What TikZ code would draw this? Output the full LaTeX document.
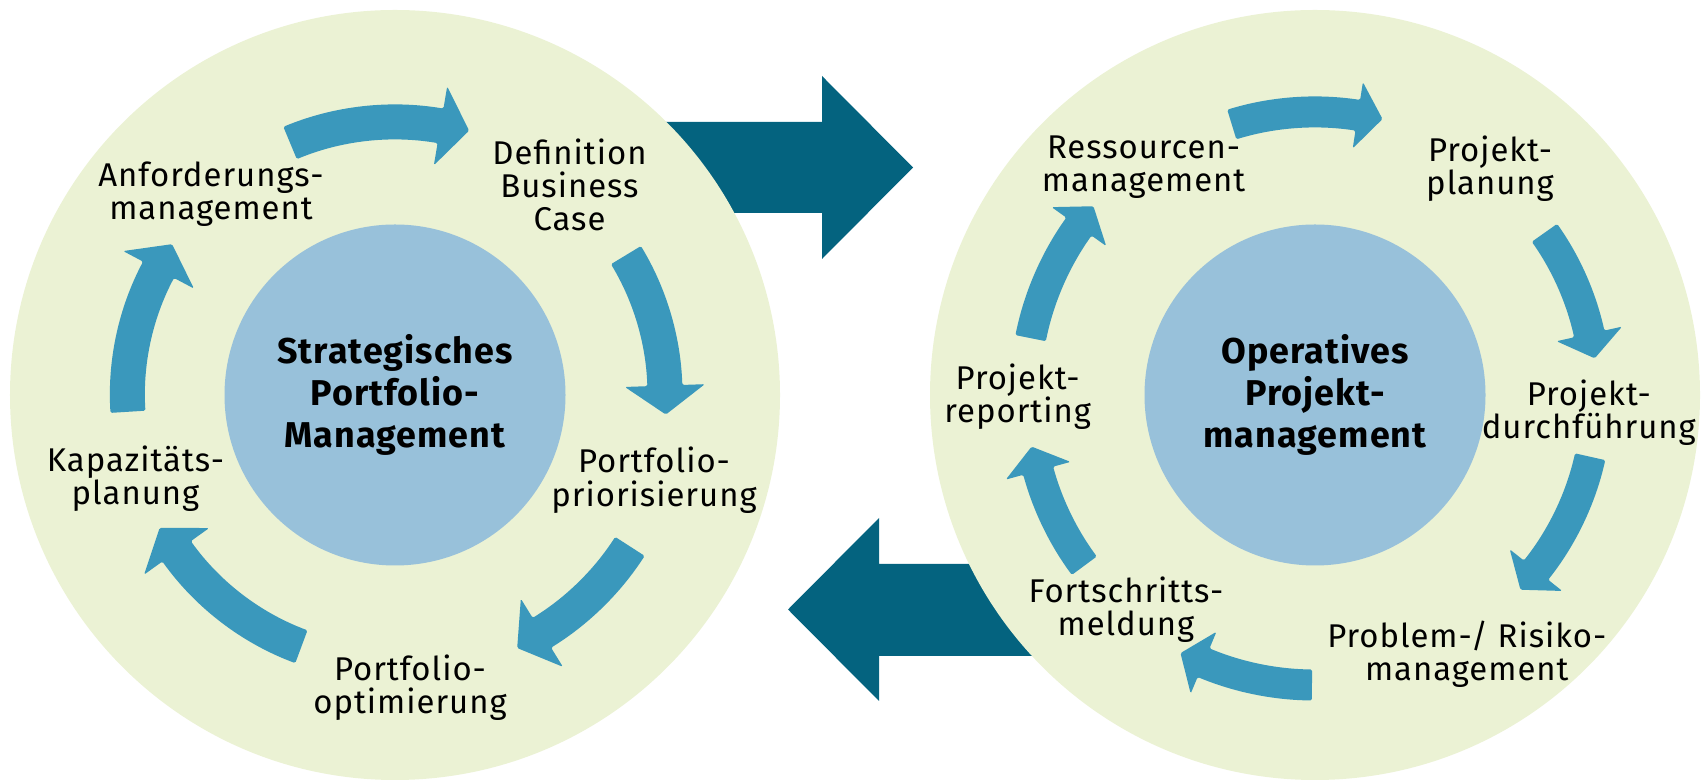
\documentclass[tikz,border=0pt]{standalone}
\usepackage{fontspec}
\setmainfont[LetterSpace=3]{Fira Sans}
\usetikzlibrary{calc,positioning}
\definecolor{ringColor}{HTML}{EBF2D4}
\definecolor{hubColor}{HTML}{98C1DA}
\definecolor{loopColor}{HTML}{3A98BC}
\definecolor{flowColor}{HTML}{04637F}
% curved arrow on a ring: centre, tail angle, head angle, radius
\newcommand{\loopArrow}[4]{%
  \fill[loop] ($(#1)+(#2:#4+\shaftW)$) arc[start angle=#2,end angle=#3,radius=#4+\shaftW]
    -- ($(#1)+(#3:#4+\headW)$) -- ($(#1)+(#3:#4)+(#3-90:\headL)$)
    -- ($(#1)+(#3:#4-\headW)$) -- ($(#1)+(#3:#4-\shaftW)$)
    arc[start angle=#3,end angle=#2,radius=#4-\shaftW] -- cycle;}

\begin{document}
\begin{tikzpicture}[%
    x=1bp,y=1bp,align=center]
    \tikzstyle{ring}=[circle,fill=ringColor,inner sep=0pt,minimum size=770bp]
    \tikzstyle{hub}=[circle,fill=hubColor,inner sep=0pt,minimum size=341bp,
                     font=\bfseries\fontsize{36}{42}\selectfont]
    \tikzstyle{phase}=[inner sep=0pt,font=\fontsize{33}{33.5}\selectfont]
    \tikzstyle{loop}=[fill=loopColor,rounded corners=1.5bp]
    \tikzstyle{flow}=[fill=flowColor]
    \useasboundingbox (0,0) rectangle (1705,780);
    % Big arrows between the cycles
    \fill[flow] (600,567) -- (822,567) -- (822,521) -- (913,612.5) -- (822,704)
                -- (822,658) -- (600,658) -- cycle;
    \fill[flow] (1050,124) -- (879,124) -- (879,79) -- (788,170.5) -- (879,262)
                -- (879,216) -- (1050,216) -- cycle;
    % Rings and hubs
    \node (leftRing) [ring] at (395,385) {};
    \node (rightRing) [ring] at (1315,385) {};
    \node (leftHub) [hub] at (leftRing.center)
          {Strategisches\\Portfolio-\\Management};
    \node (rightHub) [hub] at (rightRing.center)
          {Operatives\\Projekt-\\management};
    % Left cycle
    \node (anf) [phase] at (211,586)     {Anforderungs-\\management};
    \node (def) [phase] at (569.5,595)   {Definition\\Business\\Case};
    \node (prio) [phase] at (654,300)    {Portfolio-\\priorisierung};
    \node (opt) [phase] at (410,92.3)    {Portfolio-\\optimierung};
    \node (kap) [phase] at (135.5,301.2) {Kapazitäts-\\planung};
    \def\shaftW{17.5}\def\headW{40}\def\headL{29}
    \loopArrow{leftRing}{112.6}{80.4}{273}
    \loopArrow{leftRing}{31.2}{2}{270}
    \loopArrow{leftRing}{-32.8}{-58.3}{279.5}
    \loopArrow{leftRing}{-110.4}{-144.4}{268.6}
    \loopArrow{leftRing}{183.6}{152.1}{267.6}
    % Right cycle
    \node (res) [phase] at (1143.6,613)   {Ressourcen-\\management};
    \node (plan) [phase] at (1490,611.4)  {Projekt-\\planung};
    \node (durch) [phase] at (1588.8,367.6) {Projekt-\\durchführung};
    \node (risk) [phase] at (1466.8,125.6) {Problem-/ Risiko-\\management};
    \node (fort) [phase] at (1126,170.3)  {Fortschritts-\\meldung};
    \node (rep) [phase] at (1017.7,383.5) {Projekt-\\reporting};
    \def\shaftW{15.5}\def\headW{33.5}\def\headL{25}
    \loopArrow{rightRing}{107.1}{81.3}{283}
    \loopArrow{rightRing}{35.25}{12.55}{281}
    \loopArrow{rightRing}{-12.65}{-38.4}{282}
    \loopArrow{rightRing}{-90.6}{-112.6}{290}
    \loopArrow{rightRing}{-143.5}{-164.7}{287}
    \loopArrow{rightRing}{168.7}{144.5}{290}
\end{tikzpicture}
\end{document}
